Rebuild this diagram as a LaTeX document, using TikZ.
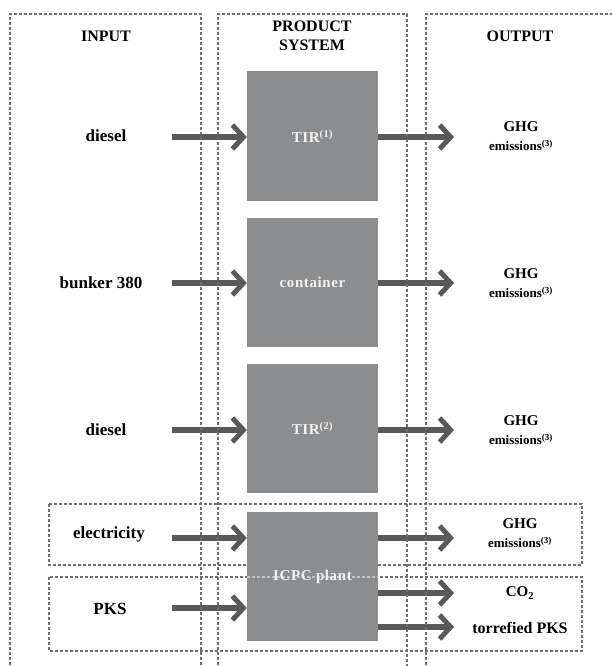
\documentclass[tikz,border=0pt]{standalone}
\usepackage{fontspec}
\setmainfont{Liberation Serif}
\usetikzlibrary{arrows.meta}
\definecolor{boxgray}{HTML}{8C8D8F}
\definecolor{arrgray}{HTML}{58595B}
\definecolor{dashgray}{HTML}{6E6E6E}
\definecolor{boxtext}{HTML}{F2F2F2}
\newcommand\emisfont{\fontsize{13}{15}\selectfont}
\begin{document}
\begin{tikzpicture}[x=1pt,y=-1pt,
  lab/.style={font=\bfseries\fontsize{15}{19}\selectfont, align=center, text=black, inner sep=0pt},
  head/.style={lab, font=\bfseries\fontsize{16}{19}\selectfont},
  inlab/.style={lab, font=\bfseries\fontsize{17}{19}\selectfont},
  proc/.style={fill=boxgray, minimum width=131pt, minimum height=129pt, inner sep=0pt, text=boxtext, font=\bfseries\fontsize{15}{16}\selectfont\addfontfeature{LetterSpace=4}},
  arr/.style={draw=arrgray, line width=6pt, -{Straight Barb[length=11pt,width=24pt,line width=5pt]}},
  dbox/.style={draw=dashgray, line width=1.1pt, dash pattern=on 3pt off 2pt}]
\useasboundingbox (0,0) rectangle (612,666);

% sub-frames (under the plant box)
\draw[dbox] (49,504) rectangle (582,565);
\draw[dbox] (49,577) rectangle (582,651);

% process boxes
\node[proc] (p1) at (312.5,136) {TIR\textsuperscript{(1)}};
\node[proc] (p2) at (312.5,282.5) {container};
\node[proc] (p3) at (312.5,428.5) {TIR\textsuperscript{(2)}};
\node[proc] (p4) at (312.5,576.5) {ICPC plant};
\draw[draw=boxtext, opacity=0.55, line width=1.1pt, dash pattern=on 3pt off 2pt]
  (p4.west |- 0,577) -- (p4.east |- 0,577);

% headers
\node[head] (hin) at (106,36) {INPUT};
\node[head] (hps) at (312,36) {PRODUCT\\SYSTEM};
\node[head] (hout) at (520,36) {OUTPUT};

% input labels
\node[inlab] (i1) at (106,136) {diesel};
\node[inlab] (i2) at (101,283) {bunker 380};
\node[inlab] (i3) at (106,430) {diesel};
\node[inlab] (i4) at (109,534) {electricity};
\node[inlab] (i5) at (110,609) {PKS};

% output labels
\node[lab] (o1) at (521,136) {GHG\\{\emisfont emissions\textsuperscript{(3)}}};
\node[lab] (o2) at (521,283) {GHG\\{\emisfont emissions\textsuperscript{(3)}}};
\node[lab] (o3) at (521,430) {GHG\\{\emisfont emissions\textsuperscript{(3)}}};
\node[lab] (o4) at (520,533) {GHG\\{\emisfont emissions\textsuperscript{(3)}}};
\node[lab] (o5) at (520,593) {CO\textsubscript{2}};
\node[lab, font=\bfseries\fontsize{16}{19}\selectfont] (o6) at (520,628) {torrefied PKS};

% input arrows
\coordinate (s1) at (172,137);
\coordinate (s2) at (172,283);
\coordinate (s3) at (172,430);
\coordinate (s4) at (172,538);
\coordinate (s5) at (172,608);
\draw[arr] (s1) -- (s1 -| p1.west);
\draw[arr] (s2) -- (s2 -| p2.west);
\draw[arr] (s3) -- (s3 -| p3.west);
\draw[arr] (s4) -- (s4 -| p4.west);
\draw[arr] (s5) -- (s5 -| p4.west);

% output arrows
\coordinate (e1) at (454,137);
\coordinate (e2) at (454,283);
\coordinate (e3) at (454,430);
\coordinate (e4) at (454,538);
\coordinate (e5) at (454,593);
\coordinate (e6) at (454,627);
\draw[arr] (p1.east |- e1) -- (e1);
\draw[arr] (p2.east |- e2) -- (e2);
\draw[arr] (p3.east |- e3) -- (e3);
\draw[arr] (p4.east |- e4) -- (e4);
\draw[arr] (p4.east |- e5) -- (e5);
\draw[arr] (p4.east |- e6) -- (e6);

% column frames
\draw[dbox] (10,680) -- (10,14) -- (201,14) -- (201,680);
\draw[dbox] (218,680) -- (218,14) -- (407,14) -- (407,680);
\draw[dbox] (426,680) -- (426,14) -- (625,14);
\end{tikzpicture}
\end{document}
